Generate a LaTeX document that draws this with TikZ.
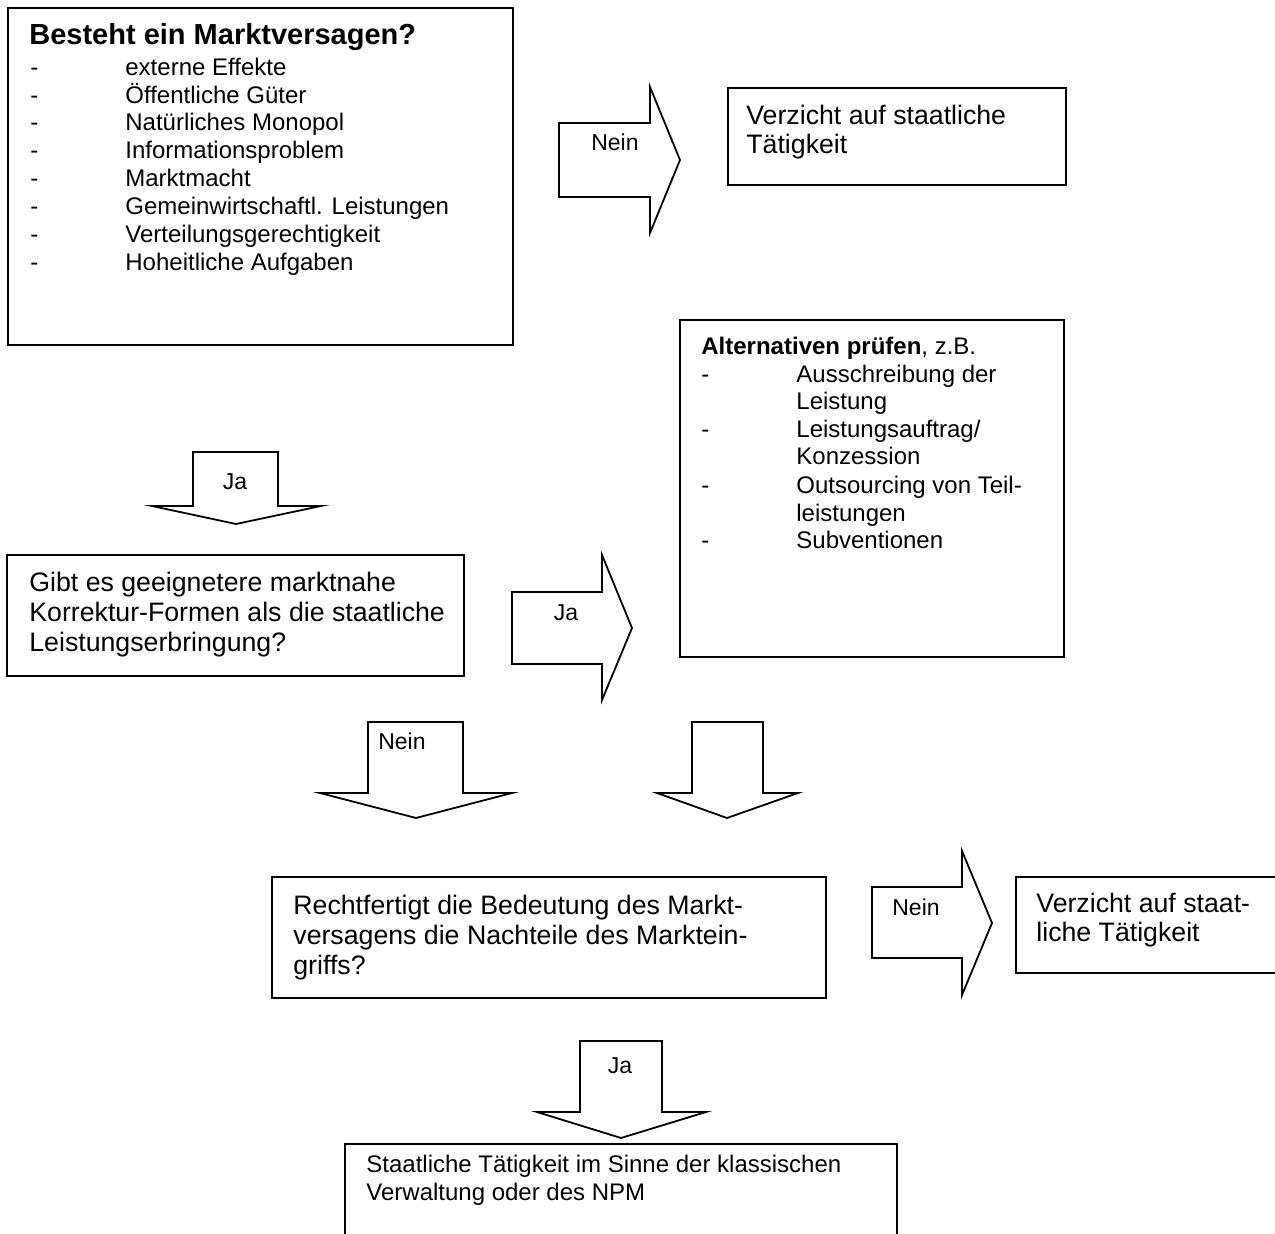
\documentclass[tikz,border=0pt]{standalone}
\usepackage{fontspec}
\setmainfont{Liberation Sans}
\begin{document}
\begin{tikzpicture}[x=0.5pt,y=-0.5pt,
  box/.style={draw, line width=1.1pt},
  arr/.style={draw, line width=0.9pt, line join=miter},
  t/.style={anchor=base west, inner sep=0, font=\fontsize{12}{14}\selectfont},
  tb/.style={anchor=base west, inner sep=0, font=\fontsize{13.35}{15}\selectfont},
  lab/.style={anchor=base, inner sep=0, font=\fontsize{11.5}{13}\selectfont}]
\useasboundingbox (0,0) rectangle (1275,1234);

% Box 1
\draw[box] (8,8) rectangle (513,345);
\node[anchor=base west, inner sep=0, font=\fontsize{14.5}{16}\selectfont\bfseries] (title1) at (29,45) {Besteht ein Marktversagen?};
\foreach \y/\txt [count=\i] in {76/externe Effekte,104/Öffentliche Güter,131/Natürliches Monopol,159/Informationsproblem,187/Marktmacht,215/Gemeinwirtschaftl. Leistungen,243/Verteilungsgerechtigkeit,271/Hoheitliche Aufgaben}{
  \node[t] (d1\i) at (30,\y) {-};
  \node[t] (i1\i) at (125,\y) {\txt};
}

% Nein arrow 1
\draw[arr] (559,123) -- (650,123) -- (650,87) -- (680,160) -- (650,233) -- (650,197) -- (559,197) -- cycle;
\node[lab] (nein1) at (615,151) {Nein};

% Verzicht box 1
\draw[box] (728,88) rectangle (1066,185);
\node[tb] (v1a) at (746,125) {Verzicht auf staatliche};
\node[tb] (v1b) at (746,154) {Tätigkeit};

% Alternativen box
\draw[box] (680,320) rectangle (1064,657);
\node[t] (alt) at (701,355) {\textbf{Alternativen prüfen}, z.B.};
\foreach \y in {383,438,494,549}{\node[t] at (701,\y) {-};}
\node[t] (a1) at (796,383) {Ausschreibung der};
\node[t] (a2) at (796,410) {Leistung};
\node[t] (a3) at (796,438) {Leistungsauftrag/};
\node[t] (a4) at (796,465) {Konzession};
\node[t] (a5) at (796,494) {Outsourcing von Teil-};
\node[t] (a6) at (796,522) {leistungen};
\node[t] (a7) at (796,549) {Subventionen};

% Ja arrow 1 (down)
\draw[arr] (193,452) -- (278,452) -- (278,506) -- (321,506) -- (236,524) -- (152,506) -- (193,506) -- cycle;
\node[lab] (ja1) at (235,490) {Ja};

% Gibt box
\draw[box] (7,555) rectangle (464,676);
\node[tb] (g1) at (29,592) {Gibt es geeignetere marktnahe};
\node[tb] (g2) at (29,622) {Korrektur-Formen als die staatliche};
\node[tb] (g3) at (29,652) {Leistungserbringung?};

% Ja arrow 2 (right)
\draw[arr] (512,592) -- (602,592) -- (602,555) -- (632,628) -- (602,700) -- (602,664) -- (512,664) -- cycle;
\node[lab] (ja2) at (566,621) {Ja};

% Nein arrow down
\draw[arr] (368,722) -- (463,722) -- (463,793) -- (512,793) -- (416,818) -- (320,793) -- (368,793) -- cycle;
\node[lab] (neind) at (402,750) {Nein};

% empty arrow down
\draw[arr] (692,722) -- (763,722) -- (763,793) -- (798,793) -- (727,818) -- (657,793) -- (692,793) -- cycle;

% Rechtfertigt box
\draw[box] (272,877) rectangle (826,998);
\node[tb] (r1) at (293,914) {Rechtfertigt die Bedeutung des Markt-};
\node[tb] (r2) at (293,944) {versagens die Nachteile des Marktein-};
\node[tb] (r3) at (293,975) {griffs?};

% Nein arrow 3
\draw[arr] (872,887) -- (962,887) -- (962,851) -- (992,923) -- (962,995) -- (962,958) -- (872,958) -- cycle;
\node[lab] (nein3) at (916,916) {Nein};

% Verzicht box 2 (cut at right)
\draw[box] (1275,877) -- (1016,877) -- (1016,973) -- (1275,973);
\node[tb] (v2a) at (1036,913) {Verzicht auf staat-};
\node[tb] (v2b) at (1036,942) {liche Tätigkeit};

% Ja arrow 3
\draw[arr] (580,1041) -- (662,1041) -- (662,1112) -- (706,1112) -- (621,1138) -- (537,1112) -- (580,1112) -- cycle;
\node[lab] (ja3) at (620,1073) {Ja};

% Staatliche box (cut at bottom)
\draw[box] (345,1234) -- (345,1144) -- (897,1144) -- (897,1234);
\node[t] (s1) at (366,1172) {Staatliche Tätigkeit im Sinne der klassischen};
\node[t] (s2) at (366,1200) {Verwaltung oder des NPM};
\end{tikzpicture}
\end{document}
